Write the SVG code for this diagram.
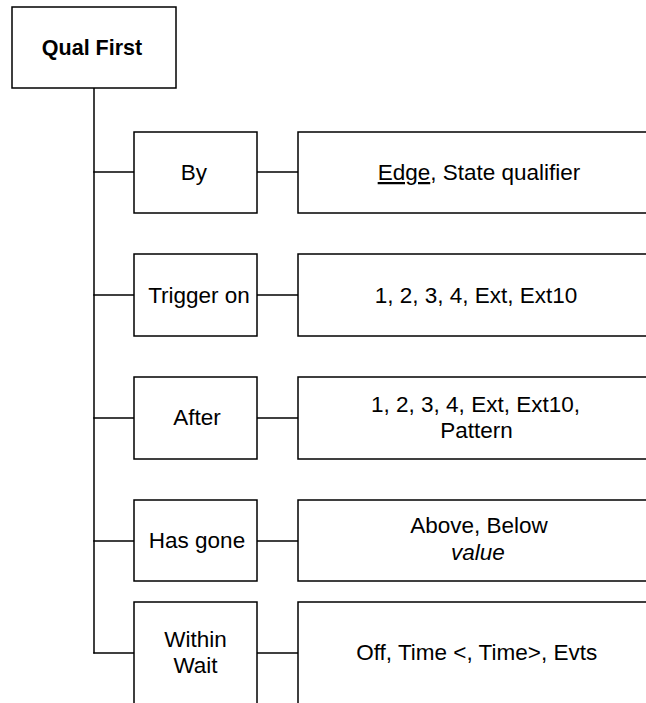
<svg xmlns="http://www.w3.org/2000/svg" width="646" height="703" viewBox="0 0 646 703">
<style>
rect{fill:#fff;stroke:#000;stroke-width:1.5}
.c line{stroke:#000;stroke-width:1.5}
text{font-family:"Liberation Sans",Arial,sans-serif;font-size:22.5px;fill:#000;text-anchor:middle}
.b{font-weight:bold;font-size:21.5px}
</style>
<rect x="0" y="0" width="646" height="703" style="stroke:none"/>
<g class="c" id="connectors">
<line x1="94" y1="88" x2="94" y2="653.5"/>
<line x1="93.25" y1="172" x2="134" y2="172"/><line x1="257" y1="172" x2="298" y2="172"/>
<line x1="93.25" y1="295" x2="134" y2="295"/><line x1="257" y1="295" x2="298" y2="295"/>
<line x1="93.25" y1="418" x2="134" y2="418"/><line x1="257" y1="418" x2="298" y2="418"/>
<line x1="93.25" y1="541" x2="134" y2="541"/><line x1="257" y1="541" x2="298" y2="541"/>
<line x1="93.25" y1="653" x2="134" y2="653"/><line x1="257" y1="653" x2="298" y2="653"/>
</g>
<g id="qual-first"><rect x="12" y="7" width="164" height="81"/><text class="b" x="92" y="55">Qual First</text></g>
<g id="by"><rect x="134" y="132" width="123" height="81"/><text x="194" y="179.5">By</text></g>
<g id="by-opts"><rect x="298" y="132" width="380" height="81"/><text x="479" y="180"><tspan text-decoration="underline">Edge</tspan>, State qualifier</text></g>
<g id="trigger-on"><rect x="134" y="254" width="123" height="82"/><text x="199" y="302.5">Trigger on</text></g>
<g id="trigger-opts"><rect x="298" y="254" width="380" height="82"/><text x="476" y="302.5">1, 2, 3, 4, Ext, Ext10</text></g>
<g id="after"><rect x="134" y="377" width="123" height="82"/><text x="197" y="425">After</text></g>
<g id="after-opts"><rect x="298" y="377" width="380" height="82"/><text x="475.5" y="411.7">1, 2, 3, 4, Ext, Ext10,</text><text x="476.5" y="437.7">Pattern</text></g>
<g id="has-gone"><rect x="134" y="500" width="123" height="81"/><text x="197" y="547.7">Has gone</text></g>
<g id="has-gone-opts"><rect x="298" y="500" width="380" height="81"/><text x="479" y="533.3">Above, Below</text><text x="478" y="560" font-style="italic">value</text></g>
<g id="within-wait"><rect x="134" y="602" width="123" height="120"/><text x="195.5" y="647.3">Within</text><text x="195.5" y="673.3">Wait</text></g>
<g id="within-opts"><rect x="298" y="602" width="380" height="120"/><text x="476.7" y="660">Off, Time &lt;, Time&gt;, Evts</text></g>
</svg>
